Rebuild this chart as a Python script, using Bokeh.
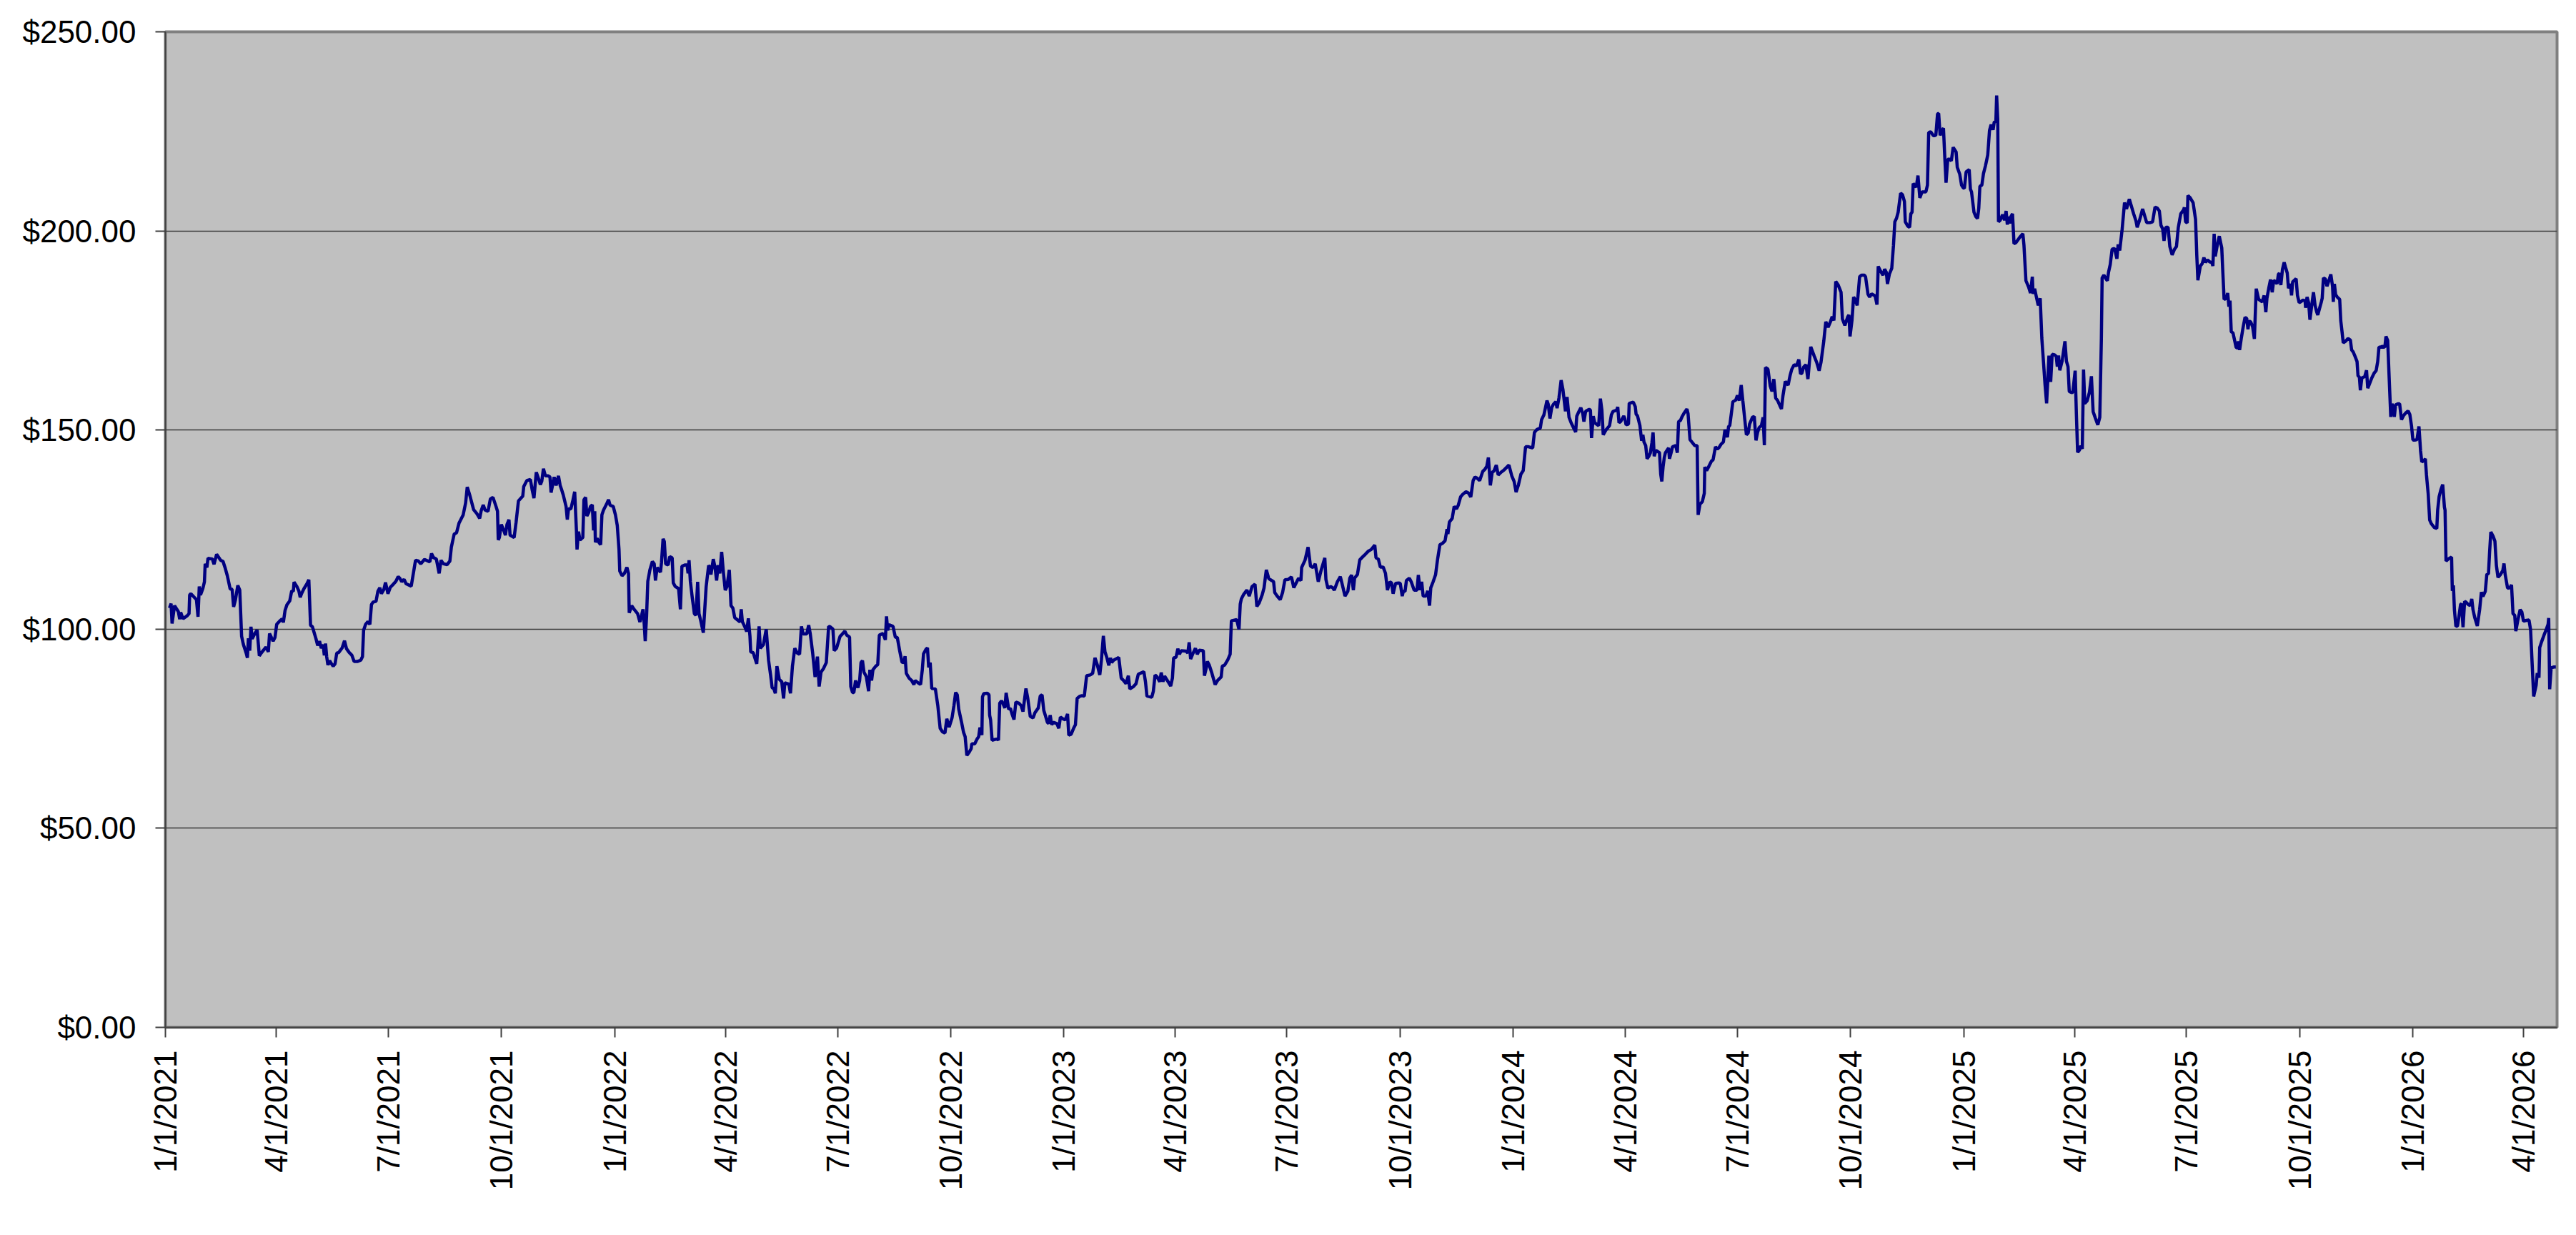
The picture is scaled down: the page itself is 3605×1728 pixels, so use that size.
import numpy as np
import pandas as pd
from math import pi
from bokeh.plotting import figure
from bokeh.models import ColumnDataSource, Range1d, FixedTicker, NumeralTickFormatter
from bokeh.embed import file_html
from bokeh.resources import INLINE

# ---- data: trading-day offsets (days since 1/1/2021) and closing prices ----
START = "2021-01-01"
END = "2026-04-28"

days_2021 = [3.3,4.6,5.4,7.4,10.5,11.6,12.4,14.3,17.8,19.2,19.7,20.7,25.2,26.5,27.5,28.5,30.4,31.7,32.3,33.7,
             34.6,38.1,39.5,41.6,44.9,46.8,48.4,50.3,52.6,54.2,55.4,56.9,58.8,60.4,61.9,63.3,65.6,66.6,67.4,68.5,
             69.5,70.5,72.6,74.5,76.3,77.8,81.7,83.6,84.6,86.1,87.5,89.0,90.4,92.7,94.8,95.8,97.2,98.7,101.0,102.6,
             103.9,104.5,106.8,108.4,109.5,110.7,112.6,115.0,116.5,117.9,119.4,122.3,123.7,125.2,126.6,128.1,129.1,130.1,131.0,132.0,
             133.4,134.9,136.3,137.8,139.2,140.7,143.6,145.5,147.1,149.4,151.4,153.3,156.2,158.7,160.1,161.0,162.6,164.5,166.1,167.4,
             168.8,171.1,172.6,174.2,175.5,177.5,178.8,180.8,182.7,185.2,187.2,189.1,190.4,192.0,193.9,195.5,199.7,201.1,203.2,205.5,
             207.5,210.4,214.8,216.2,217.7,220.1,222.4,223.9,225.9,228.8,231.1,232.3,234.6,236.5,238.5,241.9,243.9,245.2,247.2,250.4,
             253.0,255.3,256.5,258.2,259.7,262.1,264.0,266.1,268.5,269.8,270.4,271.3,272.9,275.2,276.2,277.5,279.1,280.0,283.3,284.9,
             286.8,288.8,290.3,291.1,293.6,296.5,298.0,299.4,300.4,301.3,303.3,304.6,305.8,307.1,308.7,311.0,312.4,313.3,314.9,315.8,
             317.4,319.3,320.7,321.7,323.2,325.5,326.5,327.5,329.4,331.0,332.5,333.9,334.4,335.6,336.8,339.1,340.0,341.4,342.4,343.9,
             345.3,346.8,347.8,348.8,349.3,350.7,352.2,353.6,354.6,355.9,358.4,360.0,361.3,363.8]
price_2021 = [105.3,106.4,101.4,105.9,104.4,102.5,104.2,102.6,103.4,103.9,108.6,108.9,107.4,103.1,110.7,108.6,110.2,111.9,116.4,115.5,
              117.8,117.6,116.3,118.8,117.3,117.0,115.5,113.4,110.1,110.0,105.6,107.4,111.0,109.8,98.2,96.2,94.0,92.8,97.7,94.6,
              100.6,97.6,98.9,99.8,93.3,94.0,95.5,94.3,98.9,97.9,97.0,97.9,101.2,102.0,102.6,101.7,104.7,106.1,107.1,109.6,
              109.5,111.8,110.7,109.6,108.0,109.0,110.2,111.4,112.4,101.0,100.6,97.6,95.9,97.0,95.2,96.1,93.4,96.4,93.1,91.0,
              92.1,91.3,90.7,91.3,94.0,94.1,95.3,97.1,95.1,94.1,93.5,91.9,91.9,92.2,93.1,99.7,101.2,101.9,101.2,106.2,
              106.8,107.0,109.5,110.4,108.9,110.0,111.7,108.9,110.5,111.3,112.0,113.2,112.8,111.9,112.5,111.4,110.8,113.4,117.3,117.1,
              116.4,117.5,116.9,119.0,118.0,117.6,114.0,117.3,116.4,116.2,117.1,120.6,123.9,124.2,126.6,128.7,131.7,135.7,133.7,130.0,
              129.0,127.8,129.7,131.2,129.9,129.6,132.7,133.1,130.9,129.6,122.4,123.0,126.3,124.5,123.6,126.3,127.5,123.6,123.0,126.9,
              132.2,132.9,133.4,135.8,137.3,137.6,134.9,132.9,136.4,139.4,137.6,136.3,137.2,140.3,138.5,138.5,138.2,134.3,136.7,138.2,
              136.1,138.5,136.1,135.2,133.7,130.8,127.5,130.2,130.2,132.3,134.5,124.8,120.0,124.5,122.4,123.0,132.5,133.1,128.4,129.3,
              130.8,131.2,124.8,129.6,121.8,122.8,121.8,121.2,128.7,129.9,131.4,132.5,131.1,130.8]

days_2022 = [365.6,367.1,368.5,369.1,371.0,372.9,374.9,376.2,376.8,378.8,380.7,383.6,385.5,386.9,388.0,389.0,389.8,390.9,391.9,393.6,
             395.6,397.1,398.1,399.5,402.2,403.0,404.3,405.3,406.4,408.4,409.7,411.7,412.6,414.2,416.9,418.4,419.6,421.9,423.8,424.6,
             425.4,426.5,428.1,429.7,431.0,432.4,433.5,434.9,437.0,439.3,441.3,442.6,443.2,445.1,446.5,447.8,449.0,450.4,451.9,453.3,
             454.8,456.2,458.1,459.5,461.0,462.5,464.5,466.8,467.8,468.7,470.7,472.2,473.6,474.9,475.5,477.5,480.4,482.3,483.3,485.8,
             488.1,490.0,491.6,492.9,494.3,495.5,496.8,498.7,500.7,502.2,503.2,506.5,507.8,509.4,511.3,513.3,515.2,516.7,518.1,521.0,
             522.6,523.9,525.8,527.8,529.7,531.1,532.6,534.6,536.9,538.8,540.0,542.3,543.3,545.2,548.1,549.1,552.0,553.5,555.8,556.8,
             558.2,559.3,560.7,562.6,564.0,565.1,566.3,567.5,569.4,571.3,572.3,573.7,574.8,577.1,578.7,580.0,583.0,584.9,585.8,586.8,
             587.8,591.1,593.0,594.6,596.5,598.4,600.0,600.9,601.9,604.2,606.2,608.1,609.1,611.6,613.5,614.9,615.9,617.8,619.1,620.1,
             621.3,622.6,625.5,627.5,629.4,631.3,633.3,634.8,636.7,639.1,640.6,642.0,643.3,644.5,646.8,648.4,649.7,651.1,653.0,654.6,
             655.1,657.5,659.4,660.7,661.7,663.3,663.8,664.8,667.7,669.1,669.6,670.4,671.6,673.9,675.8,676.8,677.8,679.3,680.7,682.0,
             683.0,685.1,686.5,687.8,689.4,690.9,693.3,695.2,696.7,699.1,700.6,702.6,704.9,706.4,709.1,710.7,712.2,713.6,715.1,716.5,
             717.5,718.8,720.0,721.3,724.2,725.8,727.1,729.1]
price_2022 = [128.7,126.0,120.0,114.6,113.4,114.0,115.5,114.0,104.1,105.9,105.0,103.9,101.8,103.5,105.0,101.2,97.0,103.3,112.0,114.9,
              117.0,116.4,112.2,115.5,114.3,116.7,122.7,122.0,116.4,116.1,118.2,117.9,111.6,110.7,110.2,105.0,115.8,116.1,116.1,114.0,
              117.3,111.9,107.7,103.9,103.5,111.9,103.9,102.1,99.1,110.7,116.0,115.5,113.7,117.6,115.5,112.2,116.1,114.0,119.4,114.3,
              109.8,110.7,114.9,105.9,105.3,102.9,102.4,101.8,105.0,101.9,100.6,99.4,102.7,98.2,94.3,94.1,91.3,100.7,95.2,96.1,
              100.0,92.2,88.6,85.3,85.0,83.9,90.7,87.4,86.8,82.6,86.5,86.2,83.9,90.7,95.2,94.0,93.7,100.7,98.8,98.8,
              101.0,98.8,94.1,88.0,93.1,85.6,89.2,90.1,91.6,100.7,100.6,100.0,94.6,95.2,98.2,98.5,99.5,98.5,98.0,85.6,
              84.1,84.1,87.1,85.3,87.1,91.6,92.1,89.2,88.1,84.4,89.8,87.1,89.8,90.7,91.1,98.5,98.9,97.3,103.2,99.7,
              101.1,100.7,98.0,97.9,94.6,91.7,91.6,93.2,88.9,87.7,87.1,86.1,87.1,86.5,86.1,89.8,93.8,94.9,95.3,90.4,
              91.6,85.1,85.0,80.8,75.1,74.2,73.9,77.5,75.4,77.8,80.8,84.1,83.5,79.9,76.6,74.1,73.0,68.3,69.1,70.0,
              71.2,71.2,72.4,73.0,75.3,73.4,83.0,83.8,83.9,83.5,78.4,77.2,72.1,72.3,72.4,72.1,81.4,82.0,81.1,80.2,
              84.0,79.9,80.1,78.7,77.3,81.7,81.4,80.8,79.3,85.1,82.6,78.1,77.7,79.0,80.2,83.2,83.5,79.6,78.1,76.6,
              76.3,78.4,76.0,76.6,76.3,75.1,77.9,77.5]

days_2023 = [731.0,732.9,733.9,735.8,737.8,739.3,740.7,742.6,744.5,746.5,748.4,751.3,753.3,755.2,757.1,759.1,760.4,762.0,763.3,764.9,
             766.4,767.8,768.7,770.3,774.5,776.5,778.4,780.4,782.3,783.5,786.5,788.5,790.4,794.9,796.2,797.4,801.3,802.6,804.0,805.5,
             807.8,809.0,810.4,811.7,815.2,816.7,818.1,819.1,821.0,822.5,823.8,825.2,829.0,830.6,831.7,832.9,834.5,836.8,838.3,839.9,
             843.2,844.1,845.7,846.5,848.0,849.9,852.8,854.8,857.7,858.6,860.6,863.1,865.0,866.0,870.3,872.2,873.2,874.1,876.1,878.6,
             880.5,882.8,885.2,886.7,888.6,891.0,892.5,894.4,896.4,900.3,901.2,903.2,905.7,907.6,909.5,912.3,914.8,916.7,918.6,920.6,
             922.5,923.1,925.8,928.3,930.3,932.2,934.1,936.6,939.0,941.9,942.8,944.4,946.7,948.3,949.6,952.1,954.5,956.0,958.3,960.6,
             962.2,963.7,965.1,966.1,968.4,970.3,972.8,974.8,977.3,979.6,982.5,983.5,985.4,987.0,989.3,991.2,992.8,994.7,996.1,997.4,
             999.4,1001.9,1003.2,1004.8,1005.7,1007.1,1008.2,1010.6,1012.1,1014.5,1016.8,1017.9,1019.3,1020.6,1021.8,1024.1,1025.5,1027.0,1028.0,1029.9,
             1031.9,1033.4,1035.4,1037.7,1039.6,1041.2,1041.9,1043.1,1045.4,1047.0,1048.9,1050.3,1052.2,1054.1,1056.6,1058.6,1060.5,1062.4,1063.8,1065.7,
             1067.7,1070.2,1072.1,1073.5,1074.8,1076.4,1077.9,1079.3,1081.2,1082.8,1085.1,1087.6,1089.5,1091.5,1093.8]
price_2023 = [77.2,78.7,73.4,73.6,75.1,76.0,82.6,83.1,83.3,83.2,88.3,88.5,88.9,92.8,91.0,88.5,92.2,98.3,94.3,92.8,
              90.9,92.8,91.6,92.2,92.9,87.7,87.1,86.3,88.3,85.0,85.6,86.3,88.7,89.3,86.8,83.2,82.9,84.4,88.5,88.1,
              86.8,89.1,86.8,88.2,86.5,85.7,87.7,92.8,92.9,95.1,93.7,94.6,94.5,94.0,96.7,92.5,93.7,95.2,93.7,94.7,
              94.6,88.3,90.4,91.9,91.0,89.2,86.1,87.1,88.0,90.7,91.0,92.3,93.7,102.1,102.4,99.9,106.3,107.6,108.8,109.8,
              108.3,110.7,111.3,105.7,106.6,108.6,110.3,114.9,112.7,111.9,109.2,108.3,107.4,109.2,112.4,112.5,113.1,110.4,111.6,112.8,
              112.2,115.5,117.3,120.6,115.8,115.5,116.4,111.9,114.9,117.9,112.5,110.3,110.7,110.4,109.8,111.9,113.2,111.3,108.3,109.5,
              112.8,113.6,109.8,112.8,113.7,117.4,118.2,118.8,119.6,120.0,121.1,117.9,117.6,115.6,115.6,114.0,109.8,111.9,111.6,108.9,
              111.5,111.6,111.5,108.3,109.5,109.5,112.2,112.8,111.9,109.8,109.8,113.6,109.8,111.9,108.3,108.3,109.6,105.9,110.4,111.9,
              113.7,117.3,121.2,121.6,122.2,125.1,123.9,126.9,127.8,130.8,130.2,131.1,133.2,133.9,134.5,134.2,133.2,137.3,138.2,137.9,
              137.3,139.6,140.2,140.9,143.1,136.1,139.4,139.7,141.2,138.7,139.4,140.0,140.6,141.2,138.5]

days_2024 = [1095.7,1097.3,1099.2,1101.2,1103.1,1105.0,1107.4,1110.8,1112.2,1114.1,1117.0,1118.0,1119.9,1122.4,1123.4,1124.8,1126.3,1127.7,1129.6,1130.6,
             1132.1,1133.9,1135.4,1137.4,1138.7,1140.3,1142.2,1144.1,1145.7,1146.6,1148.4,1149.9,1151.5,1152.4,1153.8,1156.7,1157.7,1158.6,1160.0,1161.2,
             1164.4,1165.8,1167.0,1168.1,1170.3,1173.2,1174.7,1176.1,1179.0,1179.9,1180.9,1182.4,1184.8,1185.7,1186.7,1188.6,1189.2,1192.5,1194.1,1194.8,
             1196.0,1197.9,1199.3,1200.3,1201.2,1202.6,1203.7,1205.1,1206.4,1207.6,1208.6,1209.5,1210.9,1213.8,1214.8,1215.7,1216.7,1217.7,1218.6,1221.2,
             1221.9,1223.5,1224.4,1227.0,1228.3,1229.3,1230.8,1232.2,1233.5,1236.1,1237.0,1238.6,1240.9,1242.4,1244.4,1245.2,1246.7,1248.6,1250.2,1250.6,
             1252.1,1254.1,1256.0,1257.3,1259.3,1260.8,1262.2,1263.7,1265.7,1267.0,1269.0,1269.9,1270.9,1273.4,1275.7,1277.1,1278.6,1280.2,1281.5,1284.4,
             1285.8,1287.0,1289.3,1290.8,1292.2,1293.5,1294.7,1296.6,1298.0,1299.0,1299.9,1301.9,1303.8,1305.2,1306.7,1308.2,1309.6,1311.5,1312.9,1314.1,
             1316.0,1318.3,1319.9,1321.2,1323.2,1325.1,1327.0,1328.4,1329.5,1330.9,1332.8,1334.4,1336.7,1339.6,1341.5,1343.5,1345.0,1347.3,1348.9,1350.8,
             1352.8,1354.1,1355.5,1357.0,1359.0,1361.3,1362.4,1364.4,1366.7,1367.7,1368.6,1370.2,1371.5,1372.9,1374.4,1376.4,1377.9,1380.3,1381.2,1383.2,
             1384.5,1386.1,1389.0,1390.5,1391.5,1393.4,1395.4,1396.7,1398.1,1399.0,1400.6,1402.5,1403.9,1405.0,1406.4,1407.7,1409.7,1411.2,1412.8,1413.5,
             1415.5,1417.0,1418.0,1419.0,1419.9,1422.4,1423.8,1425.3,1427.1,1430.2,1431.5,1432.5,1434.1,1436.4,1438.3,1439.7,1440.6,1441.8,1443.2,1444.5,
             1445.7,1446.6,1448.0,1449.5,1450.9,1452.4,1454.8,1455.7,1457.7,1459.2,1460.6]
price_2024 = [137.1,134.4,136.2,138.9,139.8,145.8,145.8,145.5,149.4,150.1,150.5,152.6,153.8,157.4,156.5,152.9,155.7,156.5,157.1,155.5,
              158.0,162.5,160.1,154.7,158.3,153.2,151.7,150.5,149.5,153.5,154.7,155.6,154.1,152.1,154.7,155.2,155.0,148.0,153.5,151.8,
              151.1,157.9,155.0,148.8,150.0,151.1,153.8,154.7,155.0,155.8,151.8,152.2,153.5,152.8,151.3,151.5,156.7,157.0,155.9,154.0,
              153.5,151.1,147.3,148.8,147.0,146.1,142.8,143.4,144.3,146.7,149.4,143.4,144.9,144.3,138.9,137.1,140.7,143.1,144.3,145.5,
              142.8,144.6,145.8,146.1,144.3,152.1,152.4,153.4,154.1,155.3,154.1,147.6,146.7,146.1,146.1,128.7,131.4,132.0,134.1,140.7,
              139.8,141.0,142.2,142.5,145.8,145.2,145.6,146.4,147.0,150.1,148.2,150.9,151.1,157.1,157.5,158.7,157.4,161.3,157.4,148.8,
              149.2,151.5,153.2,153.4,147.4,149.4,150.6,151.1,153.2,146.2,165.7,165.3,161.0,159.7,162.8,158.0,157.5,156.2,155.3,158.6,
              162.2,161.3,163.7,165.2,166.4,166.1,167.7,164.1,164.3,165.8,166.4,162.8,170.9,168.5,167.0,164.9,167.0,172.4,177.2,175.8,
              177.3,178.5,177.5,187.3,186.4,184.6,177.9,176.3,178.4,178.9,173.5,177.6,183.4,182.7,181.3,188.5,188.9,188.9,188.5,184.1,
              183.4,184.2,183.7,181.5,191.1,189.9,188.9,190.4,189.6,186.7,189.2,190.6,196.4,202.3,203.2,204.7,209.5,209.1,207.4,202.3,
              201.2,200.9,204.3,204.7,211.9,211.0,213.9,208.3,209.8,209.8,211.5,224.7,224.9,223.9,224.0,229.4,229.5,224.0,225.2,225.8,
              217.7,212.1,218.0,218.0,217.6,221.0,219.8,216.0,214.3,211.5,210.8]

days_2025 = [1461.5,1462.9,1465.4,1466.4,1467.3,1469.3,1470.8,1472.2,1473.2,1474.1,1475.7,1477.0,1478.6,1480.5,1481.9,1483.2,1484.8,1485.7,1487.1,1487.7,
             1488.6,1489.2,1490.6,1492.5,1494.1,1495.4,1496.4,1497.3,1498.3,1499.3,1500.6,1501.8,1503.2,1505.1,1507.0,1509.0,1509.9,1511.5,1513.8,1515.2,
             1516.7,1517.3,1518.6,1520.0,1521.5,1523.1,1524.4,1525.8,1527.0,1528.3,1529.3,1530.2,1531.6,1532.8,1534.7,1536.1,1537.0,1538.0,1539.0,1540.9,
             1543.2,1544.4,1545.7,1546.7,1548.6,1549.6,1551.5,1552.5,1553.5,1555.0,1556.0,1557.3,1558.3,1559.3,1561.2,1563.1,1564.7,1566.1,1568.0,1569.9,
             1571.5,1572.8,1573.4,1574.8,1576.7,1577.7,1578.6,1580.0,1581.5,1583.5,1585.4,1586.4,1587.7,1589.7,1591.6,1593.2,1595.5,1597.0,1599.0,1600.9,
             1601.9,1603.8,1606.3,1609.6,1612.5,1614.4,1616.4,1618.3,1619.9,1621.2,1622.6,1623.7,1625.1,1627.0,1628.4,1630.3,1632.2,1633.8,1635.3,1637.3,
             1639.6,1640.2,1641.2,1642.5,1643.1,1645.0,1647.3,1649.3,1650.3,1651.2,1653.2,1654.7,1656.1,1657.4,1659.0,1660.9,1662.4,1663.4,1664.4,1665.3,
             1666.7,1668.6,1670.6,1671.5,1672.5,1674.4,1675.4,1676.4,1677.3,1678.3,1679.7,1681.2,1682.2,1683.7,1684.1,1685.1,1686.4,1688.0,1689.5,1690.9,
             1691.9,1692.8,1694.2,1695.7,1697.1,1698.6,1700.6,1703.5,1705.0,1706.4,1707.3,1708.9,1710.2,1711.6,1712.8,1714.1,1715.5,1716.6,1717.4,1718.6,
             1719.9,1721.3,1722.4,1723.8,1724.8,1726.3,1727.3,1728.2,1731.0,1732.1,1733.5,1734.8,1736.4,1738.3,1738.7,1739.9,1741.2,1742.2,1743.7,1745.1,
             1746.4,1747.6,1748.6,1749.9,1751.5,1752.2,1753.2,1754.8,1756.1,1758.1,1759.2,1760.6,1761.2,1762.1,1763.1,1764.4,1766.4,1767.3,1768.3,1769.3,
             1771.2,1773.2,1775.1,1776.1,1777.4,1779.0,1780.5,1781.3,1782.4,1783.2,1784.4,1786.7,1788.2,1789.2,1790.6,1792.5,1794.4,1796.0,1797.3,1798.3,
             1799.3,1801.1,1803.1,1804.0,1805.4,1806.6,1807.9,1808.9,1809.9,1810.8,1811.8,1813.7,1815.1,1816.6,1818.2,1820.1,1822.0,1823.4,1824.8,1825.9]
price_2025 = [210.7,214.8,215.4,210.5,209.8,204.7,203.6,203.1,205.7,211.2,211.5,214.4,216.3,219.1,225.2,226.7,225.4,227.3,227.6,234.0,
              228.0,202.3,202.7,204.1,202.7,205.0,201.6,203.6,201.9,203.6,204.3,196.8,197.0,197.8,198.6,199.3,196.4,187.5,185.8,184.4,
              188.5,184.2,185.5,183.4,181.3,183.1,173.1,166.9,161.5,156.7,162.8,168.7,162.1,169.0,168.9,168.5,165.9,168.7,165.0,167.3,
              172.3,167.3,165.9,159.7,159.4,159.5,164.9,153.9,144.4,145.0,146.0,145.3,165.2,156.7,157.3,159.5,163.5,154.6,152.9,151.3,
              153.2,173.1,188.2,188.9,187.9,187.5,189.6,191.6,195.4,195.6,193.0,196.6,195.1,200.5,207.1,205.5,208.0,206.4,204.3,202.5,
              200.9,202.7,205.5,202.1,202.1,202.3,206.0,205.7,205.0,201.4,200.5,197.5,200.9,200.9,196.1,194.0,195.4,196.1,200.9,204.3,
              205.3,205.9,202.3,202.0,208.9,208.3,207.1,202.9,193.9,187.6,191.2,191.8,193.3,192.1,192.7,192.2,192.1,191.2,199.3,193.6,
              196.0,198.7,195.7,189.4,182.8,183.1,184.4,181.0,182.5,174.7,174.4,172.3,170.8,170.5,172.3,170.1,172.9,175.9,178.3,178.0,
              175.3,177.4,177.1,175.9,172.9,185.5,182.8,182.2,183.8,179.6,183.1,185.8,187.8,184.6,187.6,187.3,186.7,189.1,189.4,186.4,
              190.3,192.1,190.9,189.4,185.6,186.7,183.8,187.2,188.0,183.8,182.0,182.2,182.6,182.5,180.7,183.4,181.9,177.7,181.3,184.6,
              181.3,179.8,178.9,180.4,182.2,183.1,188.2,187.9,186.1,188.0,189.1,186.1,182.2,186.7,184.0,183.4,182.8,177.4,174.7,171.9,
              172.3,173.0,172.6,170.1,169.6,168.4,167.2,163.6,163.3,160.0,163.1,163.4,165.0,160.5,161.6,163.1,164.3,164.9,167.2,170.8,
              170.8,171.0,170.8,173.5,172.5,163.1,153.3,156.6,155.6,153.3,156.3,156.6,156.6,152.6,153.6,154.3,154.8,153.9,150.9,147.5]

days_2026 = [1827.9,1829.2,1830.8,1832.1,1833.1,1835.0,1836.0,1836.9,1838.3,1839.5,1840.8,1843.3,1845.3,1846.0,1847.2,1848.6,1850.1,1851.5,1852.0,1852.8,
             1855.0,1857.3,1857.9,1858.8,1859.6,1860.8,1862.1,1863.1,1864.6,1865.4,1866.6,1867.9,1868.9,1870.8,1872.4,1873.7,1874.7,1876.2,1878.2,1880.1,
             1881.5,1882.8,1884.7,1885.9,1887.3,1888.2,1889.2,1891.1,1892.5,1893.7,1895.0,1897.0,1898.9,1899.9,1900.8,1902.8,1904.7,1906.0,1907.2,1908.6,
             1909.5,1911.1,1913.0,1914.4,1915.7,1918.2,1920.2,1921.5,1922.7,1924.0,1926.0,1926.9,1928.3,1928.9,1930.4,1932.4,1934.3,1935.7,1936.2,1937.0,
             1938.2,1940.5,1942.0]
price_2026 = [147.5,147.6,150.9,144.8,142.0,142.4,142.8,138.7,134.0,127.4,126.5,125.5,125.3,129.9,133.3,135.0,136.3,130.6,129.9,117.1,
              117.7,118.1,109.6,111.0,104.9,100.7,100.8,102.8,106.2,106.4,100.5,107.0,106.8,106.2,105.9,107.6,104.9,102.8,100.8,104.9,
              109.3,108.2,109.5,113.7,114.0,119.4,124.4,123.3,122.1,116.0,113.0,113.7,114.7,116.5,113.8,110.3,110.4,111.1,103.9,103.5,
              99.5,102.2,104.9,104.3,102.0,102.2,102.3,99.8,91.7,83.1,85.9,89.0,87.8,95.4,96.8,98.5,100.0,101.2,102.8,84.9,
              90.3,90.5,90.5]

x_tick_labels = ["1/1/2021", "4/1/2021", "7/1/2021", "10/1/2021",
                 "1/1/2022", "4/1/2022", "7/1/2022", "10/1/2022",
                 "1/1/2023", "4/1/2023", "7/1/2023", "10/1/2023",
                 "1/1/2024", "4/1/2024", "7/1/2024", "10/1/2024",
                 "1/1/2025", "4/1/2025", "7/1/2025", "10/1/2025",
                 "1/1/2026", "4/1/2026"]
y_ticks = [0, 50, 100, 150, 200, 250]

# ---- build ----
all_days = days_2021 + days_2022 + days_2023 + days_2024 + days_2025 + days_2026
all_price = price_2021 + price_2022 + price_2023 + price_2024 + price_2025 + price_2026
dates = pd.Timestamp(START) + pd.to_timedelta(np.array(all_days), unit="D")
src = ColumnDataSource(data=dict(date=dates, price=all_price))

tick_ts = pd.to_datetime(x_tick_labels, format="%m/%d/%Y")
tick_ms = [float(t.value // 10**6) for t in tick_ts]

p = figure(width=3597, height=1712, x_axis_type="datetime",
           output_backend="svg", toolbar_location=None,
           x_range=Range1d(pd.Timestamp(START), pd.Timestamp(END)),
           y_range=Range1d(0, 250),
           min_border_left=231, min_border_right=19,
           min_border_top=44, min_border_bottom=275)

p.background_fill_color = "#C0C0C0"
p.border_fill_color = "white"
p.outline_line_color = "#808080"
p.outline_line_width = 4

p.line("date", "price", source=src, line_color="#000080", line_width=4.5)

p.xgrid.visible = False
p.ygrid.ticker = FixedTicker(ticks=y_ticks)
p.ygrid.grid_line_color = "#3a3a3a"
p.ygrid.grid_line_width = 1.5

p.yaxis.ticker = FixedTicker(ticks=y_ticks)
p.yaxis.formatter = NumeralTickFormatter(format="$0.00")
p.xaxis.ticker = FixedTicker(ticks=tick_ms)
p.xaxis.major_label_overrides = {ms: lab for ms, lab in zip(tick_ms, x_tick_labels)}
p.xaxis.major_label_orientation = pi / 2

for ax in (p.xaxis[0], p.yaxis[0]):
    ax.axis_line_color = "#404040"
    ax.axis_line_width = 2
    ax.major_tick_out = 14
    ax.major_tick_in = 0
    ax.minor_tick_out = 0
    ax.minor_tick_in = 0
    ax.major_tick_line_color = "#404040"
    ax.major_tick_line_width = 2
    ax.major_label_text_font = "Liberation Sans"
    ax.major_label_text_font_size = "44px"
    ax.major_label_text_color = "black"

p.yaxis.major_label_standoff = 27
p.xaxis.major_label_standoff = 18

open("out.html", "w").write(file_html(p, INLINE))
